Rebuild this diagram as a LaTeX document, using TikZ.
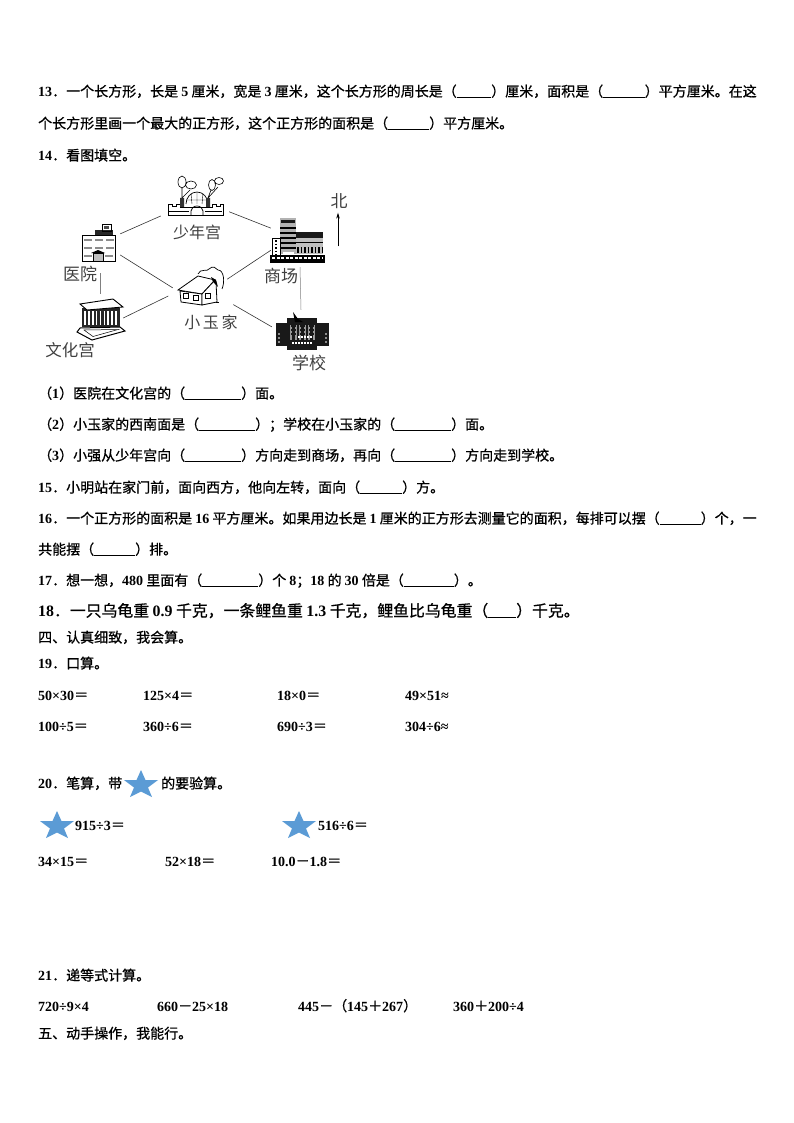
\documentclass[tikz,border=0pt]{standalone}
\usepackage{fontspec}
\usetikzlibrary{arrows.meta}
\setmainfont{Noto Sans CJK SC}[BoldFont={Noto Sans CJK SC},BoldFeatures={FakeBold=0.8}]
\newfontfamily\latinfont{Liberation Serif}
\newcommand{\n}[1]{{\latinfont\bfseries #1}}
\newcommand{\kong}[1]{\rule[-1.5pt]{#1}{0.8pt}}
\definecolor{starblue}{HTML}{5B9BD5}
\tikzset{
  line/.style={anchor=west,text height=10.5pt,text depth=2.5pt,inner sep=0pt,font=\fontsize{14}{14}\selectfont\bfseries},
  bigline/.style={line,font=\fontsize{15.85}{16}\selectfont\bfseries},
  place/.style={inner sep=0pt,minimum width=#1},
  link/.style={draw,line width=0.6pt,black!80},
  thinlink/.style={draw,line width=0.5pt,black!50},
  label/.style={inner sep=0pt,black!75,font=\fontsize{16}{16}\selectfont},
  bluestar/.pic={\fill[starblue] (0,0) -- (4.5,10) -- (17,10) -- (7,17.5) -- (11,27) -- (0,21.5) -- (-11,27) -- (-7,17.5) -- (-17,10) -- (-4.5,10) -- cycle;}
}
\begin{document}
\begin{tikzpicture}[x=1pt,y=-1pt]
\useasboundingbox (0,0) rectangle (794,1123);

% places on the map
\node[place=68pt,minimum height=48pt] (palace) at (195,200) {};
\node[place=40pt,minimum height=50pt] (hospital) at (100,248) {};
\node[place=46pt,minimum height=48pt] (culture) at (100,318) {};
\node[place=58pt,minimum height=48pt] (mall) at (300,243) {};
\node[place=58pt,minimum height=44pt] (school) at (301,332) {};
\node[place=54pt,minimum height=38pt] (house) at (200,286) {};

\path[link] (palace.205) -- (hospital.35);
\path[link] (palace.-19) -- (mall.153);
\path[link] (hospital.-19) -- (house.184);
\path[thinlink] (hospital.south) -- (culture.north);
\path[link,shorten >=5pt] (culture.east) -- (house.196);
\path[link] (mall.194) -- (house.14);
\path[link,shorten >=7pt] (school.170) -- (house.-29);
\path[thinlink] (mall.south) -- (school.north);

% palace
\draw[line width=0.7pt] (168,204) -- (168,215.5) -- (223,215.5) -- (223,204) -- (220,204) -- (220,206) -- (216,206) -- (216,204) -- (212,204) -- (212,207) -- (180,207) -- (180,204) -- (176,204) -- (176,206) -- (172,206) -- (172,204) -- cycle;
\draw[line width=0.7pt] (186,204) arc (180:360:11 and 12);
\draw (197,192) -- (197,204) (191,193.5) -- (192,204) (203,193.5) -- (202,204) (186.5,200) -- (207.5,200);
\draw[line width=0.7pt] (191,215.5) -- (191,211) arc (180:360:6 and 5) -- (203,215.5);
\draw[line width=0.5pt] (169,211) -- (189,211) (205,211) -- (222,211);
\fill[black!80] (180,198) rectangle (184,207) (206,198) rectangle (210,207);
\draw[line width=0.6pt] (182,198) -- (182,188) (182,198) -- (190,190) (208,198) -- (211,190) (208,198) -- (218,187);
\draw[line width=0.6pt] (182,182) ellipse (4 and 6) (191,185) ellipse (5.5 and 4) (212,185) ellipse (3.5 and 5.5) (219,181) ellipse (4.5 and 3.5);

% hospital
\draw[line width=0.7pt] (82,235) rectangle (115,261);
\fill[black!85] (95,230) rectangle (113,235);
\draw[line width=0.7pt] (102,231) rectangle (111,224);
\fill[black!70] (104,226) rectangle (109,229);
\draw[line width=2.5pt,dash pattern=on 8pt off 3pt,black!45] (84,240) -- (114,240) (84,248) -- (114,248);
\draw[line width=2.5pt,dash pattern=on 8pt off 24pt,black!45] (84,256) -- (92,256);
\draw[line width=2.5pt,black!45] (105,256) -- (113,256);
\draw[fill=black!25] (93,261) rectangle (103,253);
\fill (91,253) -- (98,250) -- (105,253) -- cycle;

% culture palace
\fill[black!85] (82,308) rectangle (120,327);
\draw[line width=14pt,dash pattern=on 1.7pt off 2.2pt,white] (84,318) -- (119,318);
\draw[line width=0.9pt,fill=white] (80,304) -- (113,299) -- (123,307) -- (87,310) -- cycle;
\draw[line width=1pt,fill=white] (80,328) -- (120,327) -- (125,331) -- (92,340) -- (77,332) -- cycle;
\draw[line width=0.5pt] (84,330) -- (118,329.5) -- (93,336.5) -- cycle;

% mall
\fill[black!30] (280,218) rectangle (296,254);
\fill[black!90] (281,220) rectangle (295,223);
\draw[line width=11pt,dash pattern=on 2pt off 3pt,white] (288,227) -- (288,254);
\draw[line width=1.2pt] (280,228) -- (296,228) (280,233) -- (296,233) (280,238) -- (296,238) (280,243) -- (296,243) (280,248) -- (296,248);
\draw[line width=0.6pt,fill=white] (272,238) rectangle (280,256);
\draw[line width=1.4pt,dash pattern=on 1.5pt off 2pt] (276,240) -- (276,255);
\fill[black!25] (296,238) rectangle (323,254);
\fill[black!90] (296,232) rectangle (323,238);
\draw[line width=1pt] (296,242) -- (323,242);
\draw[line width=6pt,dash pattern=on 1.5pt off 2pt] (297,250) -- (322,250);
\fill (270,255) rectangle (325,263);
\draw[white,line width=1.5pt,dash pattern=on 3pt off 1.5pt] (272,258) -- (323,258);

% house
\draw[line width=0.7pt] (198,274) .. controls (200,268) and (208,272) .. (209,269) .. controls (213,265) and (216,268) .. (218,270) .. controls (224,270) and (225,282) .. (222,289);
\draw[line width=0.8pt,fill=white] (178,290) -- (198,276) -- (215,280) -- (202,294) -- cycle;
\draw[line width=0.8pt,fill=white] (180,291) -- (181,302) -- (202,305) -- (202,294) -- cycle;
\draw[line width=0.8pt,fill=white] (202,294) -- (202,305) -- (217,302) -- (216,282) -- (215,280) -- cycle;
\draw[line width=0.7pt] (183,293) rectangle (188,298) (193,295) rectangle (198,300) (205,293) rectangle (210,298);
\fill (211,277) -- (216,280) -- (218,287) -- (213,282) -- cycle;
\draw[line width=0.8pt] (216,302) -- (219,302);

% school
\fill[black!90] (276,323) rectangle (329,346);
\fill[black!90] (287,318) rectangle (317,350);
\fill (293,312) -- (298,319) -- (303,322) -- (295,322) -- cycle;
\draw[line width=15pt,dash pattern=on 2pt off 2.5pt,black!40] (290,332) -- (315,332);
\draw[line width=1.3pt,dash pattern=on 1.5pt off 1.5pt,black!90] (288,326) -- (316,326) (288,330) -- (316,330) (288,334) -- (316,334);
\draw[line width=2.5pt,white,dash pattern=on 2pt off 1pt] (298,337) -- (313,337);
\draw[line width=1.5pt,dash pattern=on 2pt off 2pt,black!45] (279,333) -- (279,344) (326,333) -- (326,344);
\draw[line width=1.5pt,dash pattern=on 1.5pt off 1.5pt,white] (292,343) -- (312,343);

\node[label] (lpalace) at (197,232) {少年宫};
\node[label,font=\fontsize{17}{17}\selectfont] (lhospital) at (80,274) {医院};
\node[label,font=\fontsize{17}{17}\selectfont] (lmall) at (281,276) {商场};
\node[label] (lhouse) at (211,322) {小\,玉\,家};
\node[label,font=\fontsize{16.5}{17}\selectfont] (lculture) at (70,350) {文化宫};
\node[label,font=\fontsize{17}{17}\selectfont] (lschool) at (309,363) {学校};
\node[label,font=\fontsize{17}{17}\selectfont] (lnorth) at (339,201) {北};
\node[inner sep=0pt] (arrowtip) at (338,212) {};
\node[inner sep=0pt] (arrowfoot) at (338,247) {};
\draw[-{Stealth[length=6pt,width=3.5pt]},line width=0.6pt] (arrowfoot) -- (arrowtip);

% text lines
\node[line] (l13a) at (38,92.5) {\n{13}．一个长方形，长是 \n{5} 厘米，宽是 \n{3} 厘米，这个长方形的周长是（\kong{34.5pt}）厘米，面积是（\kong{41.5pt}）平方厘米。在这};
\node[line] (l13b) at (38,124.5) {个长方形里画一个最大的正方形，这个正方形的面积是（\kong{41pt}）平方厘米。};
\node[line] (l14) at (38,156.5) {\n{14}．看图填空。};
\node[line] (l14a) at (38,394.5) {（\n{1}）医院在文化宫的（\kong{56pt}）面。};
\node[line] (l14b) at (38,425.5) {（\n{2}）小玉家的西南面是（\kong{56pt}）；学校在小玉家的（\kong{56pt}）面。};
\node[line] (l14c) at (38,456.5) {（\n{3}）小强从少年宫向（\kong{56pt}）方向走到商场，再向（\kong{56pt}）方向走到学校。};
\node[line] (l15) at (38,488.5) {\n{15}．小明站在家门前，面向西方，他向左转，面向（\kong{42pt}）方。};
\node[line] (l16a) at (38,519.5) {\n{16}．一个正方形的面积是 \n{16} 平方厘米。如果用边长是 \n{1} 厘米的正方形去测量它的面积，每排可以摆（\kong{41pt}）个，一};
\node[line] (l16b) at (38,550.5) {共能摆（\kong{41pt}）排。};
\node[line] (l17) at (38,581.5) {\n{17}．想一想，\n{480} 里面有（\kong{56pt}）个 \n{8}；\n{18} 的 \n{30} 倍是（\kong{50pt}）。};
\node[bigline] (l18) at (38,612.5) {\n{18}．一只乌龟重 \n{0.9} 千克，一条鲤鱼重 \n{1.3} 千克，鲤鱼比乌龟重（\kong{28pt}）千克。};
\node[line] (l4) at (38,638.5) {四、认真细致，我会算。};
\node[line] (l19) at (38,664.5) {\n{19}．口算。};

\node[line] (a1) at (38,696) {\n{50×30}＝};
\node[line] (a2) at (143,696) {\n{125×4}＝};
\node[line] (a3) at (277,696) {\n{18×0}＝};
\node[line] (a4) at (405,696) {\n{49×51≈}};
\node[line] (b1) at (38,727) {\n{100÷5}＝};
\node[line] (b2) at (143,727) {\n{360÷6}＝};
\node[line] (b3) at (277,727) {\n{690÷3}＝};
\node[line] (b4) at (405,727) {\n{304÷6≈}};

\node[line] (l20a) at (38,784.5) {\n{20}．笔算，带};
\pic at (141,770) {bluestar};
\node[line] (l20b) at (161,784.5) {的要验算。};
\pic at (57,811) {bluestar};
\node[line] (c1) at (75,826) {\n{915÷3}＝};
\pic at (299,811) {bluestar};
\node[line] (c2) at (318,826) {\n{516÷6}＝};
\node[line] (d1) at (38,862) {\n{34×15}＝};
\node[line] (d2) at (165,862) {\n{52×18}＝};
\node[line] (d3) at (271,862) {\n{10.0}－\n{1.8}＝};

\node[line] (l21) at (38,976.5) {\n{21}．递等式计算。};
\node[line] (e1) at (38,1007) {\n{720÷9×4}};
\node[line] (e2) at (157,1007) {\n{660}－\n{25×18}};
\node[line] (e3) at (298,1007) {\n{445}－（\n{145}＋\n{267}）};
\node[line] (e4) at (453,1007) {\n{360}＋\n{200÷4}};
\node[line] (l5) at (38,1034.5) {五、动手操作，我能行。};
\end{tikzpicture}
\end{document}
